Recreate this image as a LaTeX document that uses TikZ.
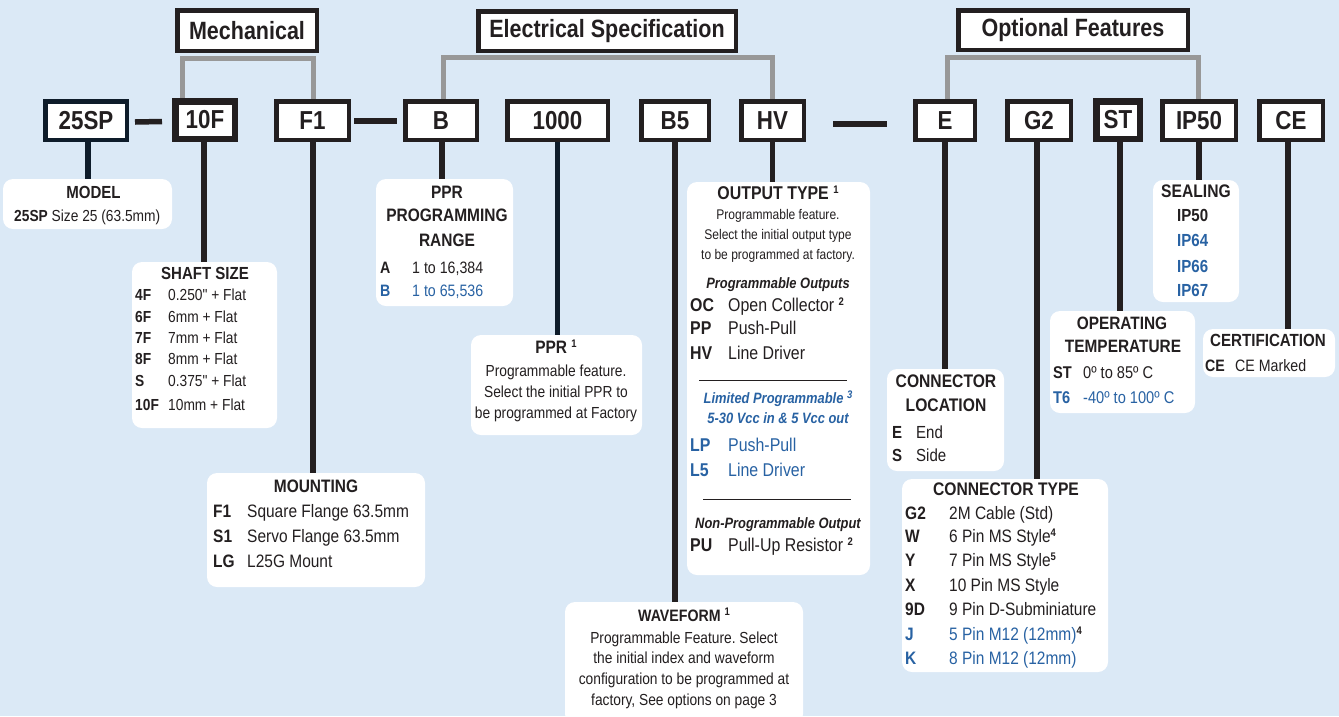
\documentclass[tikz,border=0pt]{standalone}
\usepackage{fontspec}
\setmainfont{Liberation Sans}[FakeStretch=0.86]
\newfontfamily\qfont{Liberation Sans}[FakeStretch=0.86]
\usetikzlibrary{calc}
\definecolor{bg}{RGB}{219,233,246}
\definecolor{tblue}{RGB}{40,98,163}
\definecolor{brk}{RGB}{152,152,152}
\definecolor{ink}{RGB}{35,31,32}
\definecolor{navy}{RGB}{14,28,42}
\newcommand{\myfs}[1]{\fontsize{#1}{#1}\selectfont}
\newcommand{\supnum}[1]{\raisebox{0.6ex}{\myfs{11}\bfseries #1}}
\newcommand{\dq}{{\qfont"}}
\newcommand{\optrow}[7]{%
  \node[cd,#7] (#1c) at (#2,#4) {#5};
  \node[ds,#7] (#1d) at (#3,#4) {#6};}
\def\tsz{18}\def\bsz{17}\def\dsz{16}
\frenchspacing
\begin{document}
\begin{tikzpicture}[x=1pt,y=-1pt,
  hdr/.style={draw=ink, line width=4.5pt, fill=white, inner sep=0pt, font=\myfs{25}\bfseries, text=ink},
  codebox/.style={draw=ink, line width=4.5pt, fill=white, inner sep=0pt, font=\myfs{26}\bfseries, text=ink, minimum height=38.5pt},
  heavybox/.style={line width=6.5pt, minimum height=37.5pt},
  info/.style={fill=white, rounded corners=10pt, inner sep=0pt},
  conn/.style={draw=ink, line width=5.5pt},
  dashline/.style={draw=ink, line width=5.5pt},
  brack/.style={draw=brk, line width=5pt},
  ttl/.style={inner sep=0pt, anchor=mid, yshift=-3.5pt, text=ink, font=\myfs{\tsz}\bfseries},
  cd/.style={inner sep=0pt, anchor=mid west, yshift=-3.5pt, text=ink, font=\myfs{\bsz}\bfseries},
  ds/.style={inner sep=0pt, anchor=mid west, yshift=-3.5pt, text=ink, font=\myfs{\bsz}},
  dsc/.style={inner sep=0pt, anchor=mid, yshift=-3.5pt, text=ink, font=\myfs{\dsz}},
  sub/.style={inner sep=0pt, anchor=mid, yshift=-3.5pt, text=ink, font=\myfs{15}\bfseries\itshape},
  blue/.style={text=tblue},
]
\fill[bg] (0,0) rectangle (1339,716);
\useasboundingbox (0,0) rectangle (1339,716);

% ---------- info boxes ----------
\node[info, minimum width=169pt, minimum height=50pt] (model) at (87.5,204) {};
\node[info, minimum width=145pt, minimum height=166pt] (shaft) at (204.5,345) {};
\node[info, minimum width=218pt, minimum height=114pt] (mount) at (316,530) {};
\node[info, minimum width=137pt, minimum height=127pt] (pprr) at (444.5,242.5) {};
\node[info, minimum width=171pt, minimum height=100pt] (ppr) at (556.5,385) {};
\node[info, minimum width=183pt, minimum height=393pt] (out) at (778.5,378.5) {};
\node[info, minimum width=238pt, minimum height=122pt] (wave) at (684,663) {};
\node[info, minimum width=117pt, minimum height=102pt] (cloc) at (945.5,420) {};
\node[info, minimum width=206pt, minimum height=193pt] (ctype) at (1005,575.5) {};
\node[info, minimum width=86pt, minimum height=122pt] (seal) at (1196,241) {};
\node[info, minimum width=145pt, minimum height=102pt] (optemp) at (1122.5,362) {};
\node[info, minimum width=132pt, minimum height=48pt] (cert) at (1269,353) {};

% ---------- header boxes ----------
\node[hdr, minimum width=139.5pt, minimum height=40.5pt] (mech) at (247,30.5) {Mechanical};
\node[hdr, minimum width=257.5pt, minimum height=39.5pt] (elec) at (607,31) {Electrical Specification};
\node[hdr, minimum width=229.5pt, minimum height=39.5pt] (optf) at (1073,30) {Optional Features};

% ---------- code boxes ----------
\node[codebox, draw=navy, minimum width=81.5pt] (n25) at (86,120.5) {25SP};
\node[codebox, heavybox, minimum width=59.5pt] (n10) at (205,120) {10F};
\node[codebox, minimum width=72.5pt] (nF1) at (312.5,120.5) {F1};
\node[codebox, minimum width=71.5pt] (nB) at (441,120.5) {B};
\node[codebox, minimum width=100.5pt] (n1000) at (557.5,120.5) {1000};
\node[codebox, minimum width=67.5pt] (nB5) at (675,120.5) {B5};
\node[codebox, minimum width=62.5pt] (nHV) at (772.5,120.5) {HV};
\node[codebox, minimum width=59.5pt] (nE) at (945,120.5) {E};
\node[codebox, minimum width=63.5pt] (nG2) at (1039,120.5) {G2};
\node[codebox, heavybox, minimum width=43.5pt] (nST) at (1118,120) {ST};
\node[codebox, minimum width=73.5pt] (nIP) at (1199,120.5) {IP50};
\node[codebox, minimum width=63.5pt] (nCE) at (1291,120.5) {CE};

% ---------- brackets ----------
\draw[brack] ([xshift=-23pt]n10.north) |- ($(mech.south)+(0,5)$) -| ([xshift=0.5pt]nF1.north);
\draw[brack] ([xshift=2pt]nB.north) |- ($(elec.south)+(0,4.5)$) -| (nHV.north);
\draw[brack] ([xshift=2pt]nE.north) |- ($(optf.south)+(0,5.5)$) -| ([xshift=-1pt]nIP.north);

% ---------- dashes ----------
\draw[dashline] ($(n25.east)+(6,1.5)$) -- ($(n10.west)+(-10,1.5)$);
\draw[dashline, line width=6.5pt] ($(nF1.east)+(3,0.5)$) -- ($(nB.west)+(-6,0.5)$);
\draw[dashline] ($(nHV.east)+(27,3.5)$) -- ($(nE.west)+(-26,3.5)$);

% ---------- connectors ----------
\draw[conn, draw=navy] ([xshift=2pt]n25.south) -- ([xshift=2pt]n25.south |- model.north);
\draw[conn] ([xshift=-1pt]n10.south) -- ([xshift=-1pt]n10.south |- shaft.north);
\draw[conn] ([xshift=0.5pt]nF1.south) -- ([xshift=0.5pt]nF1.south |- mount.north);
\draw[conn] ([xshift=1pt]nB.south) -- ([xshift=1pt]nB.south |- pprr.north);
\draw[conn, draw=navy] (n1000.south) -- (n1000.south |- ppr.north);
\draw[conn] (nB5.south) -- (nB5.south |- wave.north);
\draw[conn] (nHV.south) -- (nHV.south |- out.north);
\draw[conn] (nE.south) -- (nE.south |- cloc.north);
\draw[conn] ([xshift=-2pt]nG2.south) -- ([xshift=-2pt]nG2.south |- ctype.north);
\draw[conn] ([xshift=2pt]nST.south) -- ([xshift=2pt]nST.south |- optemp.north);
\draw[conn] (nIP.south) -- (nIP.south |- seal.north);
\draw[conn] ([xshift=-3pt]nCE.south) -- ([xshift=-3pt]nCE.south |- cert.north);

% ---------- MODEL ----------
\begin{scope}
\def\tsz{17.5}\def\bsz{16}
\node[ttl] (modelT) at (93.5,192) {MODEL};
\node[ds] (modelR) at (14,215) {\textbf{25SP} Size 25 (63.5mm)};
\end{scope}

% ---------- SHAFT SIZE ----------
\begin{scope}
\def\tsz{17.5}\def\bsz{16}
\node[ttl] (shaftT) at (205,273) {SHAFT SIZE};
\optrow{sa}{135}{168}{294}{4F}{0.250\dq{} + Flat}{}
\optrow{sb}{135}{168}{316}{6F}{6mm + Flat}{}
\optrow{sc}{135}{168}{337}{7F}{7mm + Flat}{}
\optrow{sd}{135}{168}{358}{8F}{8mm + Flat}{}
\optrow{se}{135}{168}{380}{S}{0.375\dq{} + Flat}{}
\optrow{sf}{135}{168}{404}{10F}{10mm + Flat}{}
\end{scope}

% ---------- MOUNTING ----------
\begin{scope}
\def\tsz{18}\def\bsz{18}
\node[ttl] (mountT) at (316,486) {MOUNTING};
\optrow{ma}{213}{247}{511}{F1}{Square Flange 63.5mm}{}
\optrow{mb}{213}{247}{536}{S1}{Servo Flange 63.5mm}{}
\optrow{mc}{213}{247}{561}{LG}{L25G Mount}{}
\end{scope}

% ---------- PPR PROGRAMMING RANGE ----------
\begin{scope}
\def\tsz{18}\def\bsz{16.5}
\node[ttl] (pprrT1) at (447,192) {PPR};
\node[ttl] (pprrT2) at (447,215) {PROGRAMMING};
\node[ttl] (pprrT3) at (447,240) {RANGE};
\optrow{pa}{380}{412}{267}{A}{1 to 16,384}{}
\optrow{pb}{380}{412}{290}{B}{1 to 65,536}{blue}
\end{scope}

% ---------- PPR ----------
\begin{scope}
\def\tsz{18}\def\dsz{16}
\node[ttl] (pprT) at (556,347) {PPR \supnum{1}};
\node[dsc] (pprD1) at (556,370) {Programmable feature.};
\node[dsc] (pprD2) at (556,391) {Select the initial PPR to};
\node[dsc] (pprD3) at (556,412) {be programmed at Factory};
\end{scope}

% ---------- OUTPUT TYPE ----------
\begin{scope}
\def\tsz{18.5}\def\bsz{18.5}\def\dsz{14}
\node[ttl] (outT) at (778,193) {OUTPUT TYPE \supnum{1}};
\node[dsc] (outD1) at (778,213) {Programmable feature.};
\node[dsc] (outD2) at (778,233) {Select the initial output type};
\node[dsc] (outD3) at (778,253) {to be programmed at factory.};
\node[sub] (outS1) at (778,282) {Programmable Outputs};
\optrow{oa}{690}{728}{305}{OC}{Open Collector \supnum{2}}{}
\optrow{ob}{690}{728}{328}{PP}{Push-Pull}{}
\optrow{oc}{690}{728}{353}{HV}{Line Driver}{}
\coordinate (r1a) at (699,380);
\coordinate (r1b) at (847,380);
\draw[ink, line width=1pt] (r1a) -- (r1b);
\node[sub, blue] (outS2) at (778,397) {Limited Programmable \supnum{3}};
\node[sub, blue] (outS3) at (778,417) {5-30 Vcc in \& 5 Vcc out};
\optrow{od}{690}{728}{445}{LP}{Push-Pull}{blue}
\optrow{oe}{690}{728}{470}{L5}{Line Driver}{blue}
\coordinate (r2a) at (703,499);
\coordinate (r2b) at (851,499);
\draw[ink, line width=1pt] (r2a) -- (r2b);
\node[sub] (outS4) at (778,522) {Non-Programmable Output};
\optrow{of}{690}{728}{545}{PU}{Pull-Up Resistor \supnum{2}}{}
\end{scope}

% ---------- WAVEFORM ----------
\begin{scope}
\def\tsz{16.5}\def\dsz{16}
\node[ttl] (waveT) at (684,615) {WAVEFORM \supnum{1}};
\node[dsc] (waveD1) at (684,637) {Programmable Feature. Select};
\node[dsc] (waveD2) at (684,657) {the initial index and waveform};
\node[dsc] (waveD3) at (684,678) {configuration to be programmed at};
\node[dsc] (waveD4) at (684,699) {factory, See options on page 3};
\end{scope}

% ---------- CONNECTOR LOCATION ----------
\begin{scope}
\def\tsz{18.2}\def\bsz{17.5}
\node[ttl] (clocT1) at (946,381) {CONNECTOR};
\node[ttl] (clocT2) at (946,405) {LOCATION};
\optrow{la}{892}{916}{432}{E}{End}{}
\optrow{lb}{892}{916}{455}{S}{Side}{}
\end{scope}

% ---------- CONNECTOR TYPE ----------
\begin{scope}
\def\tsz{18.2}\def\bsz{18}
\node[ttl] (ctypeT) at (1006,489) {CONNECTOR TYPE};
\optrow{ca}{905}{949}{513}{G2}{2M Cable (Std)}{}
\optrow{cb}{905}{949}{536}{W}{6 Pin MS Style\supnum{4}}{}
\optrow{cc}{905}{949}{560}{Y}{7 Pin MS Style\supnum{5}}{}
\optrow{cdd}{905}{949}{585}{X}{10 Pin MS Style}{}
\optrow{ce}{905}{949}{609}{9D}{9 Pin D-Subminiature}{}
\optrow{cf}{905}{949}{634}{J}{5 Pin M12 (12mm)\textcolor{ink}{\supnum{4}}}{blue}
\optrow{cg}{905}{949}{658}{K}{8 Pin M12 (12mm)}{blue}
\end{scope}

% ---------- SEALING ----------
\begin{scope}
\def\tsz{18.2}\def\bsz{17.5}
\node[ttl] (sealT) at (1196,191) {SEALING};
\node[cd] (sealA) at (1177,215) {IP50};
\node[cd, blue] (sealB) at (1177,240) {IP64};
\node[cd, blue] (sealC) at (1177,266) {IP66};
\node[cd, blue] (sealD) at (1177,290) {IP67};
\end{scope}

% ---------- OPERATING TEMPERATURE ----------
\begin{scope}
\def\tsz{17.9}\def\bsz{17}
\node[ttl] (optT1) at (1122,323) {OPERATING};
\node[ttl] (optT2) at (1123,346) {TEMPERATURE};
\optrow{ta}{1053}{1083}{372}{ST}{0º to 85º C}{}
\optrow{tb}{1053}{1083}{397}{T6}{-40º to 100º C}{blue}
\end{scope}

% ---------- CERTIFICATION ----------
\begin{scope}
\def\tsz{17.6}\def\bsz{16.5}
\node[ttl] (certT) at (1268,340) {CERTIFICATION};
\optrow{ka}{1205}{1235}{365}{CE}{CE Marked}{}
\end{scope}
\end{tikzpicture}
\end{document}
